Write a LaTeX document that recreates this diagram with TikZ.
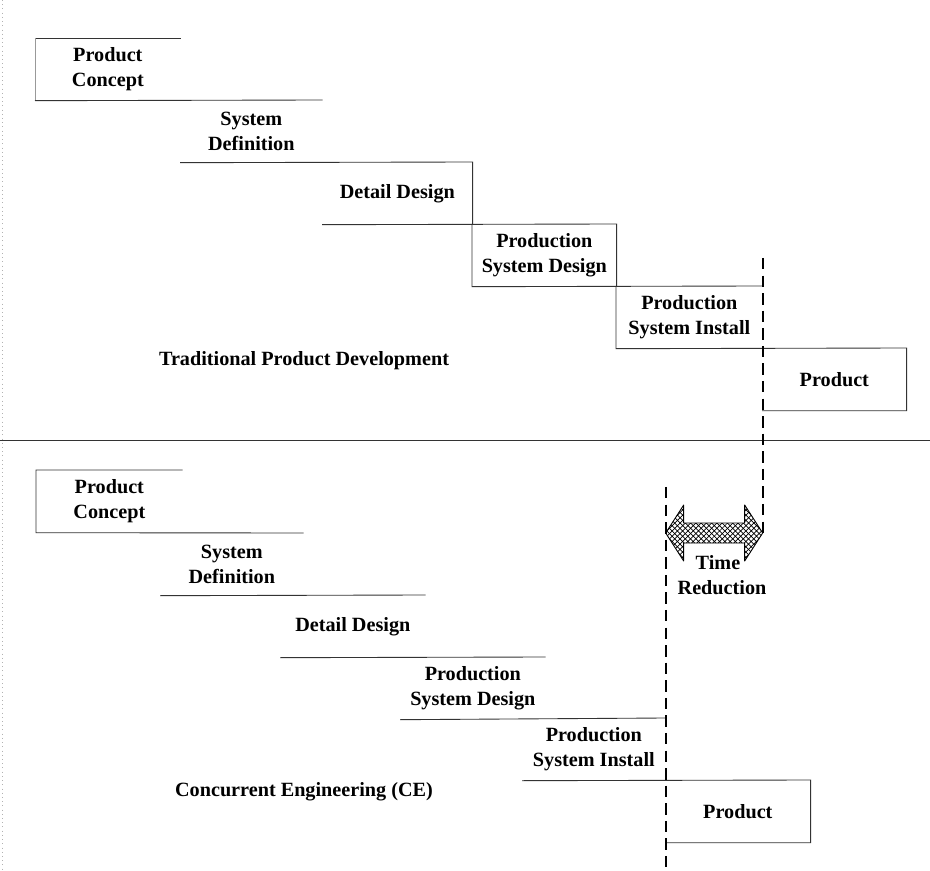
\documentclass[tikz,border=0pt]{standalone}
\usepackage{fontspec}
\setmainfont{Liberation Serif}
\usetikzlibrary{patterns,calc}

\tikzset{
  stage/.style={anchor=north west, minimum height=1.24cm, inner sep=0pt, align=center},
  edge/.style={line width=0.5pt, black!80},
  cutline/.style={line width=1pt, dash pattern=on 6.5pt off 3.5pt},
  timearrow/.style={line width=0.5pt, pattern=crosshatch, line join=round}
}

\begin{document}
\begin{tikzpicture}[x=0.02cm, y=-0.02cm, font=\fontsize{11.5}{14}\selectfont\bfseries]
	\useasboundingbox (0,0) rectangle (930,871);
	% scan edge
	\draw[black!30, dotted] (2,0) -- (2,871);
	% traditional sequence
	\node[stage, minimum width=2.90cm] (tpc) at (35,38) {Product\\Concept};
	\node[stage, minimum width=2.84cm] (tsd) at (180,100) {System\\Definition};
	\node[stage, minimum width=3.00cm] (tdd) at (322,162) {Detail Design};
	\node[stage, minimum width=2.88cm] (tpd) at (472,224) {Production\\System Design};
	\node[stage, minimum width=2.92cm] (tpi) at (616,286) {Production\\System Install};
	\node[stage, minimum width=2.88cm] (tprod) at (762,348) {Product};
	\draw[edge] (tpc.north east) -- (tpc.north west);
	\draw[edge, black!40] (tpc.north west) -- (tpc.south west);
	\draw[edge] (tpc.south west) -- (tsd.north east);
	\draw[edge] (tsd.south west) -- (tdd.north east) -- (tdd.south east);
	\draw[edge] (tdd.south west) -- (tpd.north east) -- (tpd.south east);
	\draw[edge] (tpd.north west) -- (tpd.south west) -- (tpi.north east);
	\draw[edge] (tpi.north west) -- (tpi.south west) -- (tprod.north east) -- (tprod.south east) -- (tprod.south west);
	\node (trad) at (304,361) {Traditional Product Development};

	\draw[edge] (0,440) -- (930,440);

	% concurrent sequence
	\node[stage, minimum width=2.92cm] (bpc) at (36,470) {Product\\Concept};
	\node[stage, minimum width=2.86cm] (bsd) at (160,533) {System\\Definition};
	\node[stage, minimum width=2.90cm] (bdd) at (280,595) {Detail Design};
	\node[stage, minimum width=2.90cm] (bpd) at (400,657) {Production\\System Design};
	\node[stage, minimum width=2.86cm] (bpi) at (522,718) {Production\\System Install};
	\node[stage, minimum width=2.90cm] (bprod) at (665,780) {Product};
	\draw[edge] (bpc.north east) -- (bpc.north west) -- (bpc.south west) -- (bsd.north east);
	\draw[edge] (bsd.south west) -- (bdd.north east);
	\draw[edge] (bdd.south west) -- (bpd.north east);
	\draw[edge] (bpd.south west) -- (bpi.north east);
	\draw[edge] (bpi.south west) -- (bprod.north east) -- (bprod.south east) -- (bprod.south west);
	\node (conc) at (304,792) {Concurrent Engineering (CE)};

	% finish lines
	\coordinate (oldend) at (tpi.north east |- 0,258);
	\coordinate (newend) at (bpi.north east |- 0,487);
	\draw[cutline] (oldend) -- ($(oldend)+(0,275)$);
	\draw[cutline] (newend) -- (newend |- 0,871);

	% time reduction
	\coordinate (ta) at (newend |- 0,533);
	\coordinate (tb) at (oldend |- 0,533);
	\draw[timearrow] (ta) -- ++(18,-28) -- ++(0,18) -- ($(tb)+(-18,-10)$) -- ++(0,-18) -- (tb)
		-- ++(-18,28) -- ++(0,-18) -- ($(ta)+(18,10)$) -- ++(0,18) -- cycle;
	\node[align=center] (tred) at (722,575) {\hspace*{-0.4em}Time\\Reduction};
\end{tikzpicture}
\end{document}
